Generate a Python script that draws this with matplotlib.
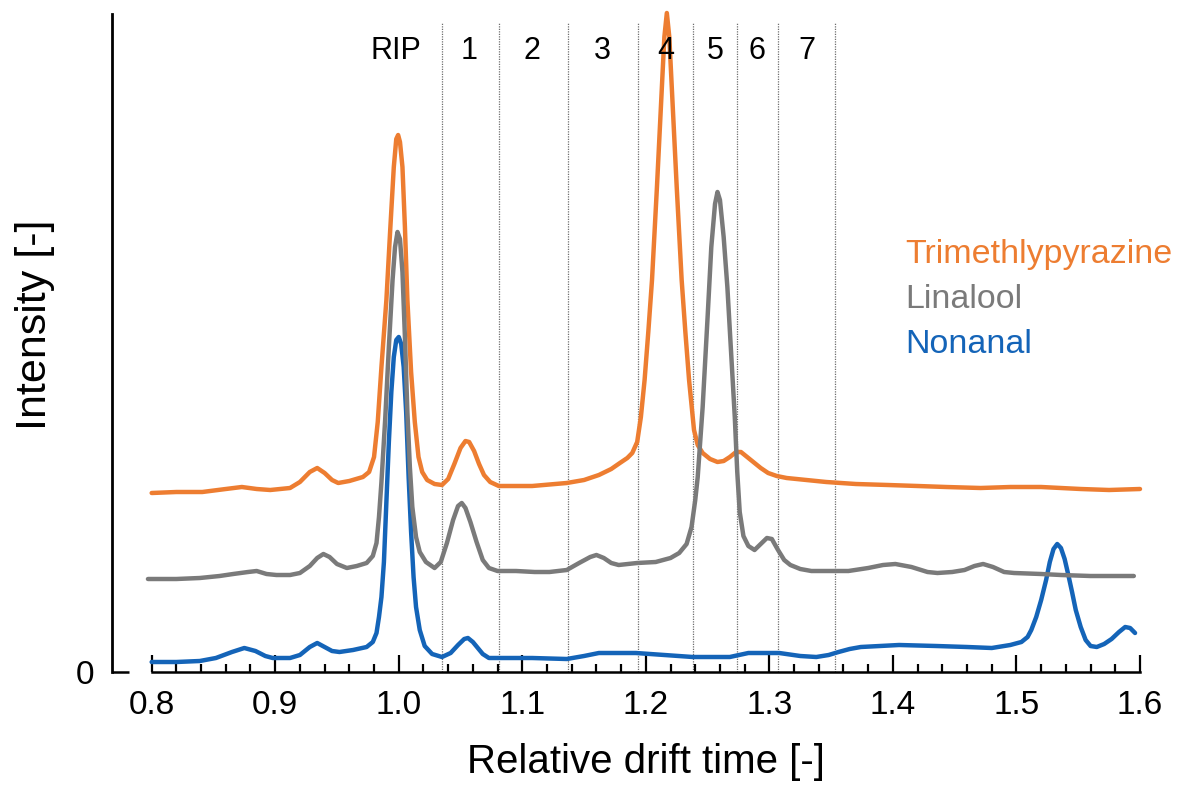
import numpy as np
import matplotlib.pyplot as plt

plt.rcParams['font.family'] = ['Liberation Sans', 'DejaVu Sans']

# drift-time traces (relative drift time, intensity a.u.)
tmp_x = [0.800, 0.820, 0.841, 0.860, 0.873, 0.885, 0.896, 0.912, 0.920, 0.928,
         0.934, 0.940, 0.946, 0.951, 0.960, 0.971, 0.976, 0.980, 0.983, 0.986,
         0.990, 0.993, 0.996, 0.998, 0.9995, 1.001, 1.003, 1.005, 1.007, 1.010,
         1.013, 1.016, 1.019, 1.023, 1.029, 1.035, 1.040, 1.045, 1.050, 1.054,
         1.057, 1.061, 1.065, 1.069, 1.074, 1.081, 1.108, 1.136, 1.150, 1.162,
         1.172, 1.179, 1.185, 1.189, 1.193, 1.196, 1.199, 1.202, 1.205, 1.209,
         1.213, 1.215, 1.217, 1.219, 1.221, 1.225, 1.229, 1.232, 1.235, 1.239,
         1.242, 1.246, 1.252, 1.258, 1.263, 1.268, 1.273, 1.277, 1.281, 1.287,
         1.293, 1.299, 1.306, 1.314, 1.330, 1.346, 1.370, 1.396, 1.420, 1.443,
         1.471, 1.495, 1.520, 1.552, 1.575, 1.600]
tmp_y = [1.79, 1.80, 1.80, 1.83, 1.85, 1.83, 1.82, 1.84, 1.90, 2.00,
         2.04, 1.99, 1.92, 1.89, 1.91, 1.95, 2.00, 2.15, 2.50, 3.05,
         3.72, 4.40, 5.05, 5.33, 5.37, 5.30, 5.05, 4.45, 3.72, 3.00,
         2.50, 2.15, 2.00, 1.92, 1.88, 1.87, 1.93, 2.08, 2.24, 2.31,
         2.30, 2.21, 2.08, 1.97, 1.90, 1.86, 1.86, 1.89, 1.92, 1.97,
         2.03, 2.09, 2.14, 2.19, 2.30, 2.55, 2.92, 3.40, 3.92, 4.85,
         5.85, 6.35, 6.59, 6.35, 5.85, 4.85, 3.92, 3.40, 2.92, 2.42,
         2.27, 2.19, 2.13, 2.10, 2.11, 2.15, 2.20, 2.20, 2.16, 2.10,
         2.04, 1.99, 1.96, 1.94, 1.92, 1.90, 1.88, 1.87, 1.86, 1.85,
         1.84, 1.85, 1.85, 1.83, 1.82, 1.83]

lin_x = [0.797, 0.820, 0.839, 0.855, 0.866, 0.878, 0.885, 0.893, 0.901, 0.912,
         0.920, 0.928, 0.934, 0.939, 0.944, 0.950, 0.958, 0.966, 0.974, 0.979,
         0.982, 0.984, 0.986, 0.989, 0.992, 0.995, 0.997, 0.999, 1.001, 1.003,
         1.005, 1.007, 1.009, 1.011, 1.014, 1.017, 1.022, 1.029, 1.034, 1.039,
         1.044, 1.048, 1.051, 1.054, 1.058, 1.063, 1.068, 1.073, 1.080, 1.095,
         1.110, 1.122, 1.136, 1.146, 1.155, 1.160, 1.166, 1.172, 1.178, 1.193,
         1.208, 1.220, 1.227, 1.233, 1.237, 1.240, 1.242, 1.246, 1.250, 1.253,
         1.256, 1.258, 1.260, 1.263, 1.266, 1.269, 1.272, 1.274, 1.276, 1.279,
         1.283, 1.288, 1.293, 1.298, 1.302, 1.307, 1.312, 1.317, 1.325, 1.334,
         1.350, 1.364, 1.380, 1.392, 1.402, 1.415, 1.428, 1.436, 1.448, 1.458,
         1.466, 1.473, 1.481, 1.490, 1.498, 1.520, 1.536, 1.560, 1.595]
lin_y = [0.93, 0.93, 0.94, 0.96, 0.98, 1.00, 1.01, 0.98, 0.97, 0.97,
         0.99, 1.06, 1.14, 1.18, 1.15, 1.08, 1.04, 1.06, 1.09, 1.16,
         1.29, 1.55, 1.90, 2.52, 3.25, 3.92, 4.25, 4.40, 4.33, 4.00,
         3.35, 2.60, 2.05, 1.65, 1.35, 1.20, 1.10, 1.04, 1.10, 1.29,
         1.52, 1.66, 1.69, 1.64, 1.50, 1.30, 1.12, 1.04, 1.01, 1.01,
         1.00, 1.00, 1.02, 1.09, 1.15, 1.17, 1.14, 1.09, 1.07, 1.09,
         1.10, 1.14, 1.19, 1.28, 1.45, 1.72, 1.95, 2.65, 3.55, 4.25,
         4.68, 4.80, 4.72, 4.35, 3.85, 3.20, 2.55, 2.00, 1.60, 1.36,
         1.26, 1.22, 1.28, 1.34, 1.33, 1.22, 1.12, 1.07, 1.03, 1.01,
         1.01, 1.01, 1.04, 1.07, 1.08, 1.05, 1.00, 0.99, 1.00, 1.02,
         1.06, 1.08, 1.05, 1.00, 0.99, 0.98, 0.97, 0.96, 0.96]

non_x = [0.800, 0.820, 0.839, 0.852, 0.865, 0.875, 0.884, 0.892, 0.898, 0.912,
         0.920, 0.928, 0.934, 0.940, 0.946, 0.952, 0.963, 0.974, 0.979, 0.982,
         0.984, 0.986, 0.988, 0.990, 0.992, 0.994, 0.996, 0.998, 1.000, 1.002,
         1.004, 1.006, 1.008, 1.010, 1.012, 1.014, 1.017, 1.021, 1.027, 1.035,
         1.042, 1.048, 1.053, 1.056, 1.060, 1.064, 1.068, 1.073, 1.090, 1.108,
         1.136, 1.150, 1.162, 1.192, 1.215, 1.238, 1.268, 1.283, 1.308, 1.325,
         1.338, 1.348, 1.356, 1.365, 1.374, 1.405, 1.435, 1.460, 1.480, 1.495,
         1.504, 1.509, 1.512, 1.516, 1.520, 1.524, 1.527, 1.530, 1.533, 1.536,
         1.539, 1.542, 1.545, 1.548, 1.552, 1.556, 1.560, 1.565, 1.571, 1.577,
         1.583, 1.588, 1.592, 1.596]
non_y = [0.10, 0.10, 0.11, 0.14, 0.20, 0.24, 0.21, 0.16, 0.14, 0.14,
         0.17, 0.25, 0.29, 0.25, 0.21, 0.20, 0.22, 0.25, 0.30, 0.39,
         0.55, 0.75, 1.10, 1.70, 2.30, 2.80, 3.15, 3.32, 3.35, 3.28,
         3.05, 2.60, 1.95, 1.40, 0.95, 0.65, 0.42, 0.26, 0.18, 0.15,
         0.19, 0.27, 0.33, 0.34, 0.30, 0.24, 0.18, 0.14, 0.14, 0.14,
         0.13, 0.16, 0.19, 0.19, 0.17, 0.15, 0.15, 0.19, 0.19, 0.16,
         0.15, 0.17, 0.20, 0.23, 0.25, 0.27, 0.26, 0.25, 0.24, 0.27,
         0.30, 0.35, 0.42, 0.55, 0.72, 0.92, 1.10, 1.23, 1.28, 1.24,
         1.13, 0.97, 0.80, 0.62, 0.45, 0.32, 0.26, 0.25, 0.28, 0.33,
         0.40, 0.45, 0.44, 0.39]

# region boundaries and labels
boundaries = [1.035, 1.081, 1.137, 1.194, 1.238, 1.274, 1.307, 1.353]
region_labels = ['RIP', '1', '2', '3', '4', '5', '6', '7']
region_pos = [0.998, 1.057, 1.108, 1.165, 1.216, 1.256, 1.290, 1.330]

x_ticks = [0.8, 0.9, 1.0, 1.1, 1.2, 1.3, 1.4, 1.5, 1.6]
x_tick_labels = ['0.8', '0.9', '1.0', '1.1', '1.2', '1.3', '1.4', '1.5', '1.6']

names = ['Trimethlypyrazine', 'Linalool', 'Nonanal']
colors = ['#ED7D31', '#7A7A7A', '#1464B8']

W, H = 1184, 793
fig = plt.figure(figsize=(W / 100, H / 100), dpi=100)
ax = fig.add_axes([112 / W, 1 - 672 / H, 1028 / W, 658 / H])
ax.set_xlim(0.7679, 1.6)
ax.set_ylim(0, 6.58)

for b in boundaries:
    ax.axvline(b, ymin=0, ymax=0.986, color='#6E6E6E', lw=0.9,
               linestyle=(0, (1, 1)), zorder=1)

# orange first, then blue, grey on top
series = [(tmp_x, tmp_y, colors[0]), (non_x, non_y, colors[2]),
          (lin_x, lin_y, colors[1])]
for z, (xs, ys, col) in enumerate(series):
    ax.plot(xs, ys, color=col, lw=3.2, solid_joinstyle='round',
            solid_capstyle='round', clip_on=False, zorder=2 + z)

lab_tr = ax.get_xaxis_transform()
for lab, xp in zip(region_labels, region_pos):
    ax.text(xp, 0.9316, lab, transform=lab_tr, ha='center', va='baseline',
            fontsize=22, color='black')

for spine in ['top', 'right']:
    ax.spines[spine].set_visible(False)
ax.spines['left'].set_linewidth(2.0)
ax.spines['bottom'].set_linewidth(1.8)
ax.spines['bottom'].set_bounds(0.8, 1.6)

ax.set_xticks(x_ticks)
ax.set_xticklabels(x_tick_labels)
ax.set_xticks(np.arange(0.8, 1.6001, 0.02), minor=True)
ax.tick_params(axis='x', which='major', direction='in', length=12, width=1.6,
               pad=13, labelsize=24)
ax.tick_params(axis='x', which='minor', direction='in', length=6, width=1.6)
ax.set_yticks([0])
ax.set_yticklabels(['0'])
ax.tick_params(axis='y', direction='in', length=12, width=1.8, pad=13,
               labelsize=24)

fig.text(646 / W, 1 - 773 / H, 'Relative drift time [-]', ha='center',
         va='baseline', fontsize=29)
fig.text(35 / W, 1 - 325 / H, 'Intensity [-]', rotation=90, ha='center',
         va='center', fontsize=31)

for k, (name, col) in enumerate(zip(names, colors)):
    fig.text(905 / W, 1 - (263 + 45 * k) / H, name, color=col, ha='left',
             va='baseline', fontsize=24.5)

fig.savefig('out.png', dpi=100)
